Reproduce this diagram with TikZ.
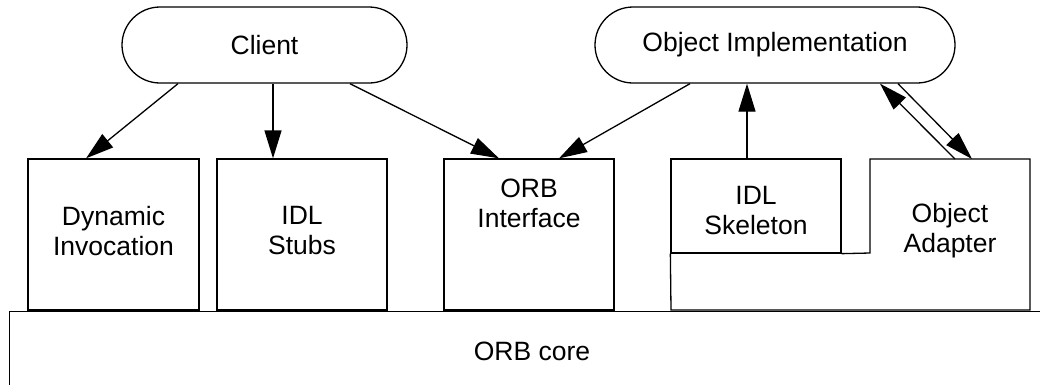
\documentclass[tikz,border=0pt]{standalone}
\usepackage{fontspec}
\setmainfont{Liberation Sans}
\usetikzlibrary{arrows.meta,calc}
\begin{document}
\begin{tikzpicture}[x=1pt,y=-1pt,
  every node/.style={font=\fontsize{26.5}{30}\selectfont, inner sep=0pt, align=center},
  pill/.style={draw, line width=1.3pt, rounded corners=38pt, minimum height=76pt},
  box/.style={draw, line width=1.3pt},
  lbl/.style={},
  conn/.style={line width=1.3pt, -{Triangle[length=28pt,width=17pt]}}]
\useasboundingbox (0,0) rectangle (1040,384);
\clip (0,0) rectangle (1040,384);
% top ellipses
\node[pill, minimum width=285pt] (client) at (264.5,45) {Client};
\node[pill, minimum width=360pt] (impl) at (775,45) {Object Implementation};
% boxes
\node[box, minimum width=171pt, minimum height=151pt] (dyn) at (113.5,234.5) {};
\node[box, minimum width=170pt, minimum height=151pt] (stubs) at (302,234.5) {};
\node[box, minimum width=170pt, minimum height=151pt] (orbi) at (529,234.5) {};
\node[box, minimum width=170pt, minimum height=94pt] (skel) at (756,206) {};
\coordinate (adtop) at (950,159);
\draw[line width=1.3pt] (skel.south east) -- (870,253) -- (870,159) -- (1030,159) -- (1030,310) -- (671,310) -- (skel.south west);
% texts
\node[lbl] (dynT) at (113.5,231) {Dynamic\\Invocation};
\node[lbl] (stubsT) at (302,231) {IDL\\Stubs};
\node[lbl] (orbiT) at (529,203) {ORB\\Interface};
\node[lbl] (skelT) at (756,211) {IDL\\Skeleton};
\node[lbl] (adT) at (950,231) {Object\\Adapter};
% core
\node[box, minimum width=1060pt, minimum height=100pt, anchor=north west] (core) at (9,311) {};
\node[lbl] (coreT) at (532,351) {ORB core};
% connectors
\draw[conn] ([xshift=-86.5pt]client.south) -- ([xshift=-27.5pt]dyn.north);
\draw[conn] ([xshift=8.5pt]client.south) -- ([xshift=-29pt]stubs.north);
\draw[conn] ([xshift=85.5pt]client.south) -- ([xshift=-30pt]orbi.north);
\draw[conn] ([xshift=-85pt]impl.south) -- ([xshift=30pt]orbi.north);
\draw[conn] ([xshift=-9pt]skel.north) -- ([xshift=-28pt]impl.south);
\draw[conn] ([xshift=5pt]adtop) -- ([xshift=105pt]impl.south);
\draw[conn] ([xshift=123pt]impl.south) -- ([xshift=22pt]adtop);
\end{tikzpicture}
\end{document}
